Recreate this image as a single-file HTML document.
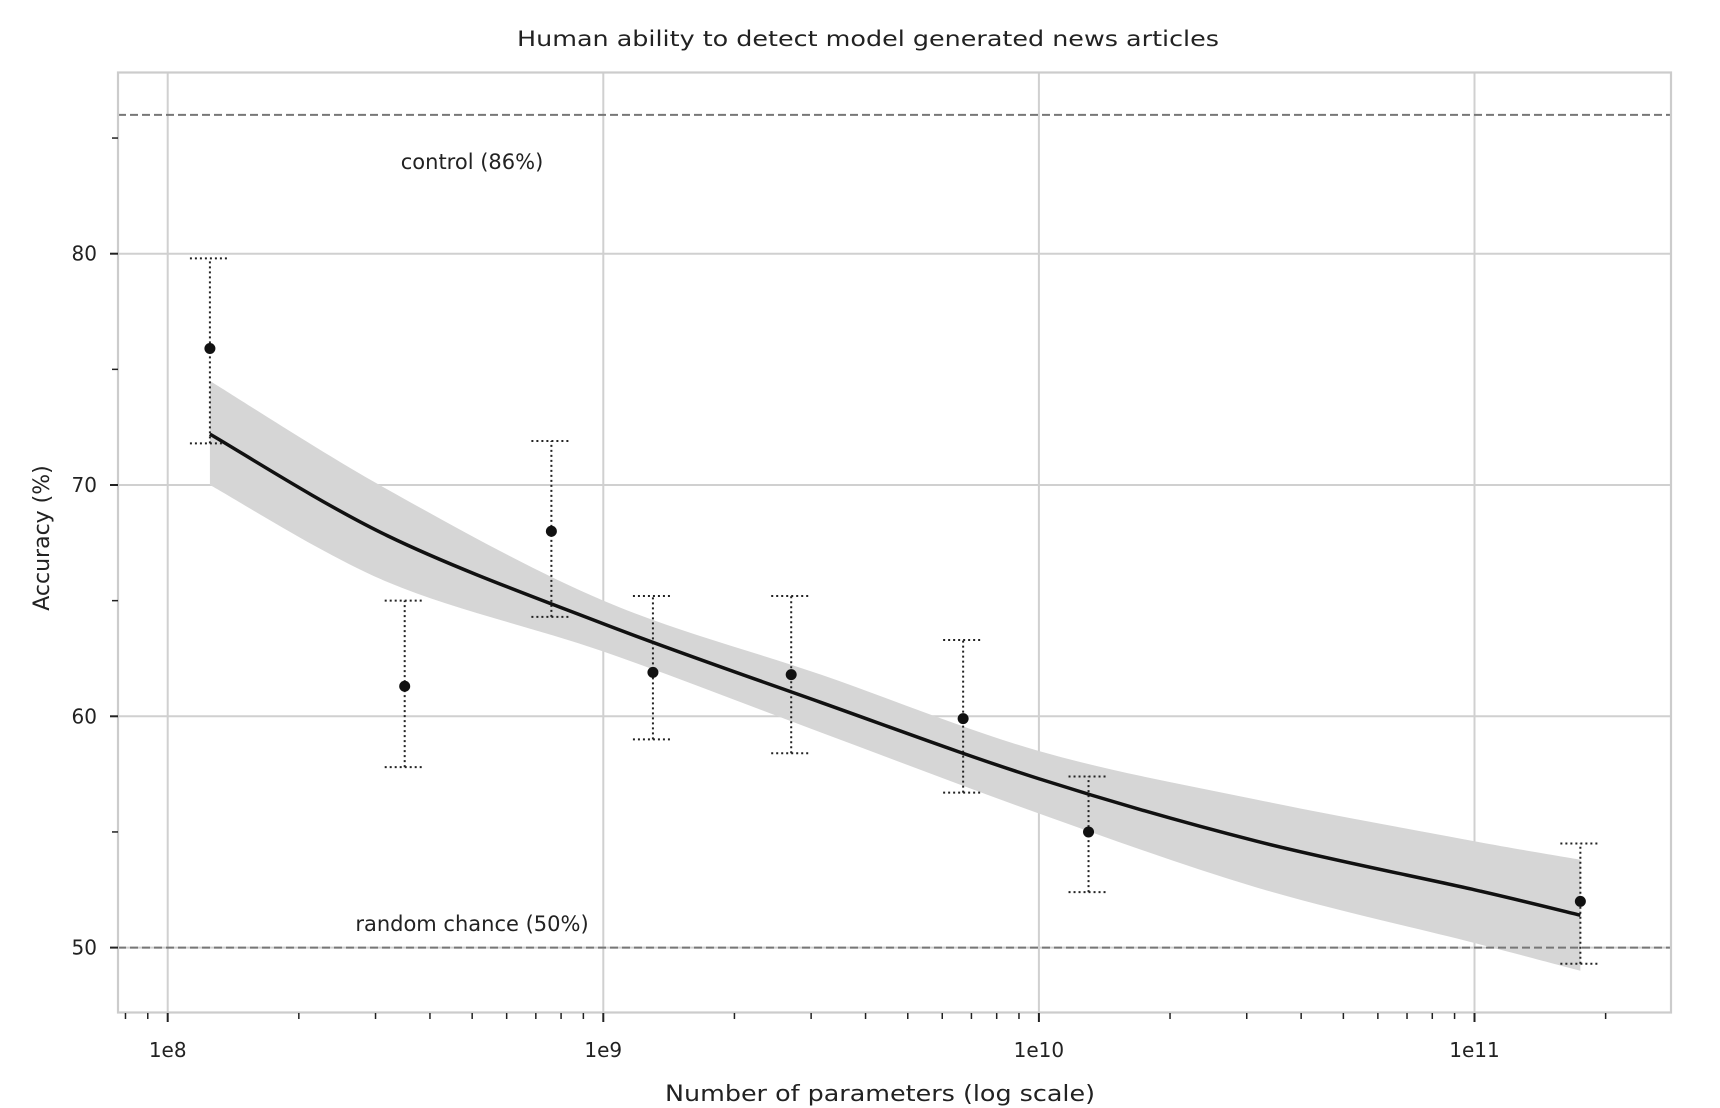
<!DOCTYPE html>
<html><head><meta charset="utf-8"><style>
html,body{margin:0;padding:0;background:#fff;}
svg{display:block;font-family:"DejaVu Sans","Liberation Sans",sans-serif;}
</style></head><body>
<svg id="chart" width="1720" height="1108" viewBox="0 0 1720 1108" xmlns="http://www.w3.org/2000/svg">
<text x="868" y="46" text-anchor="middle" font-size="21" fill="#222" textLength="702" lengthAdjust="spacingAndGlyphs">Human ability to detect model generated news articles</text>
<g id="grid"></g>
<g id="band"></g>
<g id="refs"></g>
<g id="errs"></g>
<g id="marks"></g>
<rect x="118" y="72.5" width="1553" height="940" fill="none" stroke="#cccccc" stroke-width="2.2"/>
<g id="axes"></g>
<text x="880" y="1101" text-anchor="middle" font-size="22" fill="#222" textLength="430" lengthAdjust="spacingAndGlyphs">Number of parameters (log scale)</text>
<text transform="translate(49,538) rotate(-90)" text-anchor="middle" font-size="22" fill="#222">Accuracy (%)</text>
<text x="472" y="169" text-anchor="middle" font-size="21" fill="#222">control (86%)</text>
<text x="472" y="931" text-anchor="middle" font-size="21" fill="#222">random chance (50%)</text>
</svg>
<script>
// data
const pointParams = [1.25e8, 3.5e8, 7.6e8, 1.3e9, 2.7e9, 6.7e9, 1.3e10, 1.75e11];
const pointAcc = [75.9, 61.3, 68.0, 61.9, 61.8, 59.9, 55.0, 52.0];
const errLow = [71.8, 57.8, 64.3, 59.0, 58.4, 56.7, 52.4, 49.3];
const errHigh = [79.8, 65.0, 71.9, 65.2, 65.2, 63.3, 57.4, 54.5];
const fitParams = [1.25e8, 3.2e8, 1e9, 3.16e9, 1e10, 3.16e10, 1e11, 1.75e11];
const fitAcc = [72.2, 67.8, 64.0, 60.6, 57.3, 54.6, 52.5, 51.4];
const bandHigh = [74.5, 69.8, 65.0, 61.8, 58.5, 56.4, 54.6, 53.8];
const bandLow = [70.0, 65.8, 62.8, 59.3, 55.8, 52.6, 50.2, 49.0];
const yTicks = [50, 60, 70, 80];
const yMinor = [55, 65, 75, 85];
const xTicks = [1e8, 1e9, 1e10, 1e11];
const xTickLabels = ["1e8", "1e9", "1e10", "1e11"];
const controlLevel = 86;
const chanceLevel = 50;

const NS = "http://www.w3.org/2000/svg";
function X(v){ return 167.7 + (Math.log10(v) - 8) * 435.6; }
function Y(v){ return 947.6 - (v - 50) * 23.13; }
function mk(parent, tag, attrs){
  const el = document.createElementNS(NS, tag);
  for (const k in attrs) el.setAttribute(k, attrs[k]);
  document.getElementById(parent).appendChild(el);
  return el;
}
function smooth(pts){
  let d = "M" + pts[0][0] + "," + pts[0][1];
  for (let i = 0; i < pts.length - 1; i++){
    const p0 = pts[i-1] || pts[i], p1 = pts[i], p2 = pts[i+1], p3 = pts[i+2] || p2;
    const c1 = [p1[0] + (p2[0]-p0[0])/6, p1[1] + (p2[1]-p0[1])/6];
    const c2 = [p2[0] - (p3[0]-p1[0])/6, p2[1] - (p3[1]-p1[1])/6];
    d += " C" + c1 + " " + c2 + " " + p2;
  }
  return d;
}
// grid
yTicks.forEach(v => {
  const g = mk("grid", "line", {x1:118, x2:1671, y1:Y(v), y2:Y(v), stroke:"#d0d0d0", "stroke-width":2});
  
  
  const t = mk("axes", "line", {x1:110, x2:118, y1:Y(v), y2:Y(v), stroke:"#222", "stroke-width":2});
  
  
  const l = mk("axes", "text", {x:97, y:Y(v)+7, "text-anchor":"end", "font-size":20, fill:"#222"});
  l.textContent = v;
  
  
});
yMinor.forEach(v => {
  const t = mk("axes", "line", {x1:112, x2:118, y1:Y(v), y2:Y(v), stroke:"#222", "stroke-width":1.5});
  
  
});
xTicks.forEach((v, i) => {
  const g = mk("grid", "line", {x1:X(v), x2:X(v), y1:72.5, y2:1012, stroke:"#d0d0d0", "stroke-width":2});
  
  
  const t = mk("axes", "line", {x1:X(v), x2:X(v), y1:1013, y2:1022, stroke:"#222", "stroke-width":2});
  
  
  const l = mk("axes", "text", {x:X(v), y:1057, "text-anchor":"middle", "font-size":20, fill:"#222"});
  l.textContent = xTickLabels[i];
  
  
});
for (let e = 7; e <= 11; e++){
  for (let m = 2; m <= 9; m++){
    const v = m * Math.pow(10, e);
    if (X(v) < 120 || X(v) > 1669) continue;
    const t = mk("axes", "line", {x1:X(v), x2:X(v), y1:1013, y2:1019, stroke:"#222", "stroke-width":1.5});
    
    
  }
}
// band
const up = fitParams.map((p, i) => [X(p), Y(bandHigh[i])]);
const lo = fitParams.map((p, i) => [X(p), Y(bandLow[i])]).reverse();
const bd = smooth(up) + " L" + lo[0] + smooth(lo).replace(/^M[^ ]*/, "") + " Z";
const band = mk("band", "path", {d:bd, fill:"#d6d6d6"});


// reference lines
[controlLevel, chanceLevel].forEach((v, i) => {
  const r = mk("refs", "line", {x1:118, x2:1671, y1:Y(v), y2:Y(v), stroke:"#777", "stroke-width":2, "stroke-dasharray":"8,4"});
  
  
});
// error bars
pointParams.forEach((p, i) => {
  const x = X(p);
  const v = mk("errs", "line", {x1:x, x2:x, y1:Y(errLow[i]), y2:Y(errHigh[i]), stroke:"#222", "stroke-width":2, "stroke-dasharray":"2,3"});
  
  
  [errLow[i], errHigh[i]].forEach(e => {
    const c = mk("errs", "line", {x1:x-20, x2:x+20, y1:Y(e), y2:Y(e), stroke:"#222", "stroke-width":2, "stroke-dasharray":"2,3"});
    
    
  });
});
// fit line
const fit = mk("marks", "path", {d:smooth(fitParams.map((p, i) => [X(p), Y(fitAcc[i])])), fill:"none", stroke:"#111", "stroke-width":3.5});


// points
pointParams.forEach((p, i) => {
  const c = mk("marks", "circle", {cx:X(p), cy:Y(pointAcc[i]), r:5.5, fill:"#111"});
  
  
});
</script>
</body></html>
